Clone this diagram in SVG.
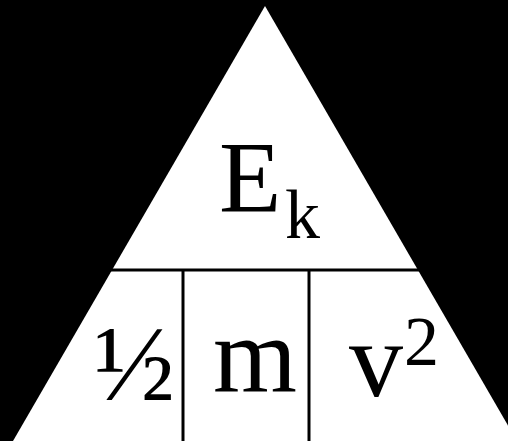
<svg xmlns="http://www.w3.org/2000/svg" width="508" height="441" viewBox="0 0 508 441">
<style>
.t{font-family:"Liberation Serif","Times New Roman",serif;fill:#000}
.ln{stroke:#000;stroke-width:3;fill:none}
</style>
<rect x="0" y="0" width="508" height="441" fill="#000"/>
<g id="triangle">
<polygon points="265,6 13,441 517,441" fill="#fff"/>
</g>
<g id="connectors">
<line class="ln" x1="110" y1="270" x2="420" y2="270"/>
<line class="ln" x1="183" y1="270" x2="183" y2="441"/>
<line class="ln" x1="309" y1="270" x2="309" y2="441"/>
</g>
<g id="ek">
<text class="t" x="219" y="212" font-size="102">E</text>
<text class="t" x="285" y="238" font-size="70">k</text>
</g>
<g id="half">
<text class="t" x="94" y="400" font-size="108">½</text>
</g>
<g id="mass">
<text class="t" x="213" y="392" font-size="108">m</text>
</g>
<g id="vsq">
<text class="t" x="349" y="396" font-size="108">v</text>
<text class="t" x="404" y="365" font-size="70">2</text>
</g>
</svg>
